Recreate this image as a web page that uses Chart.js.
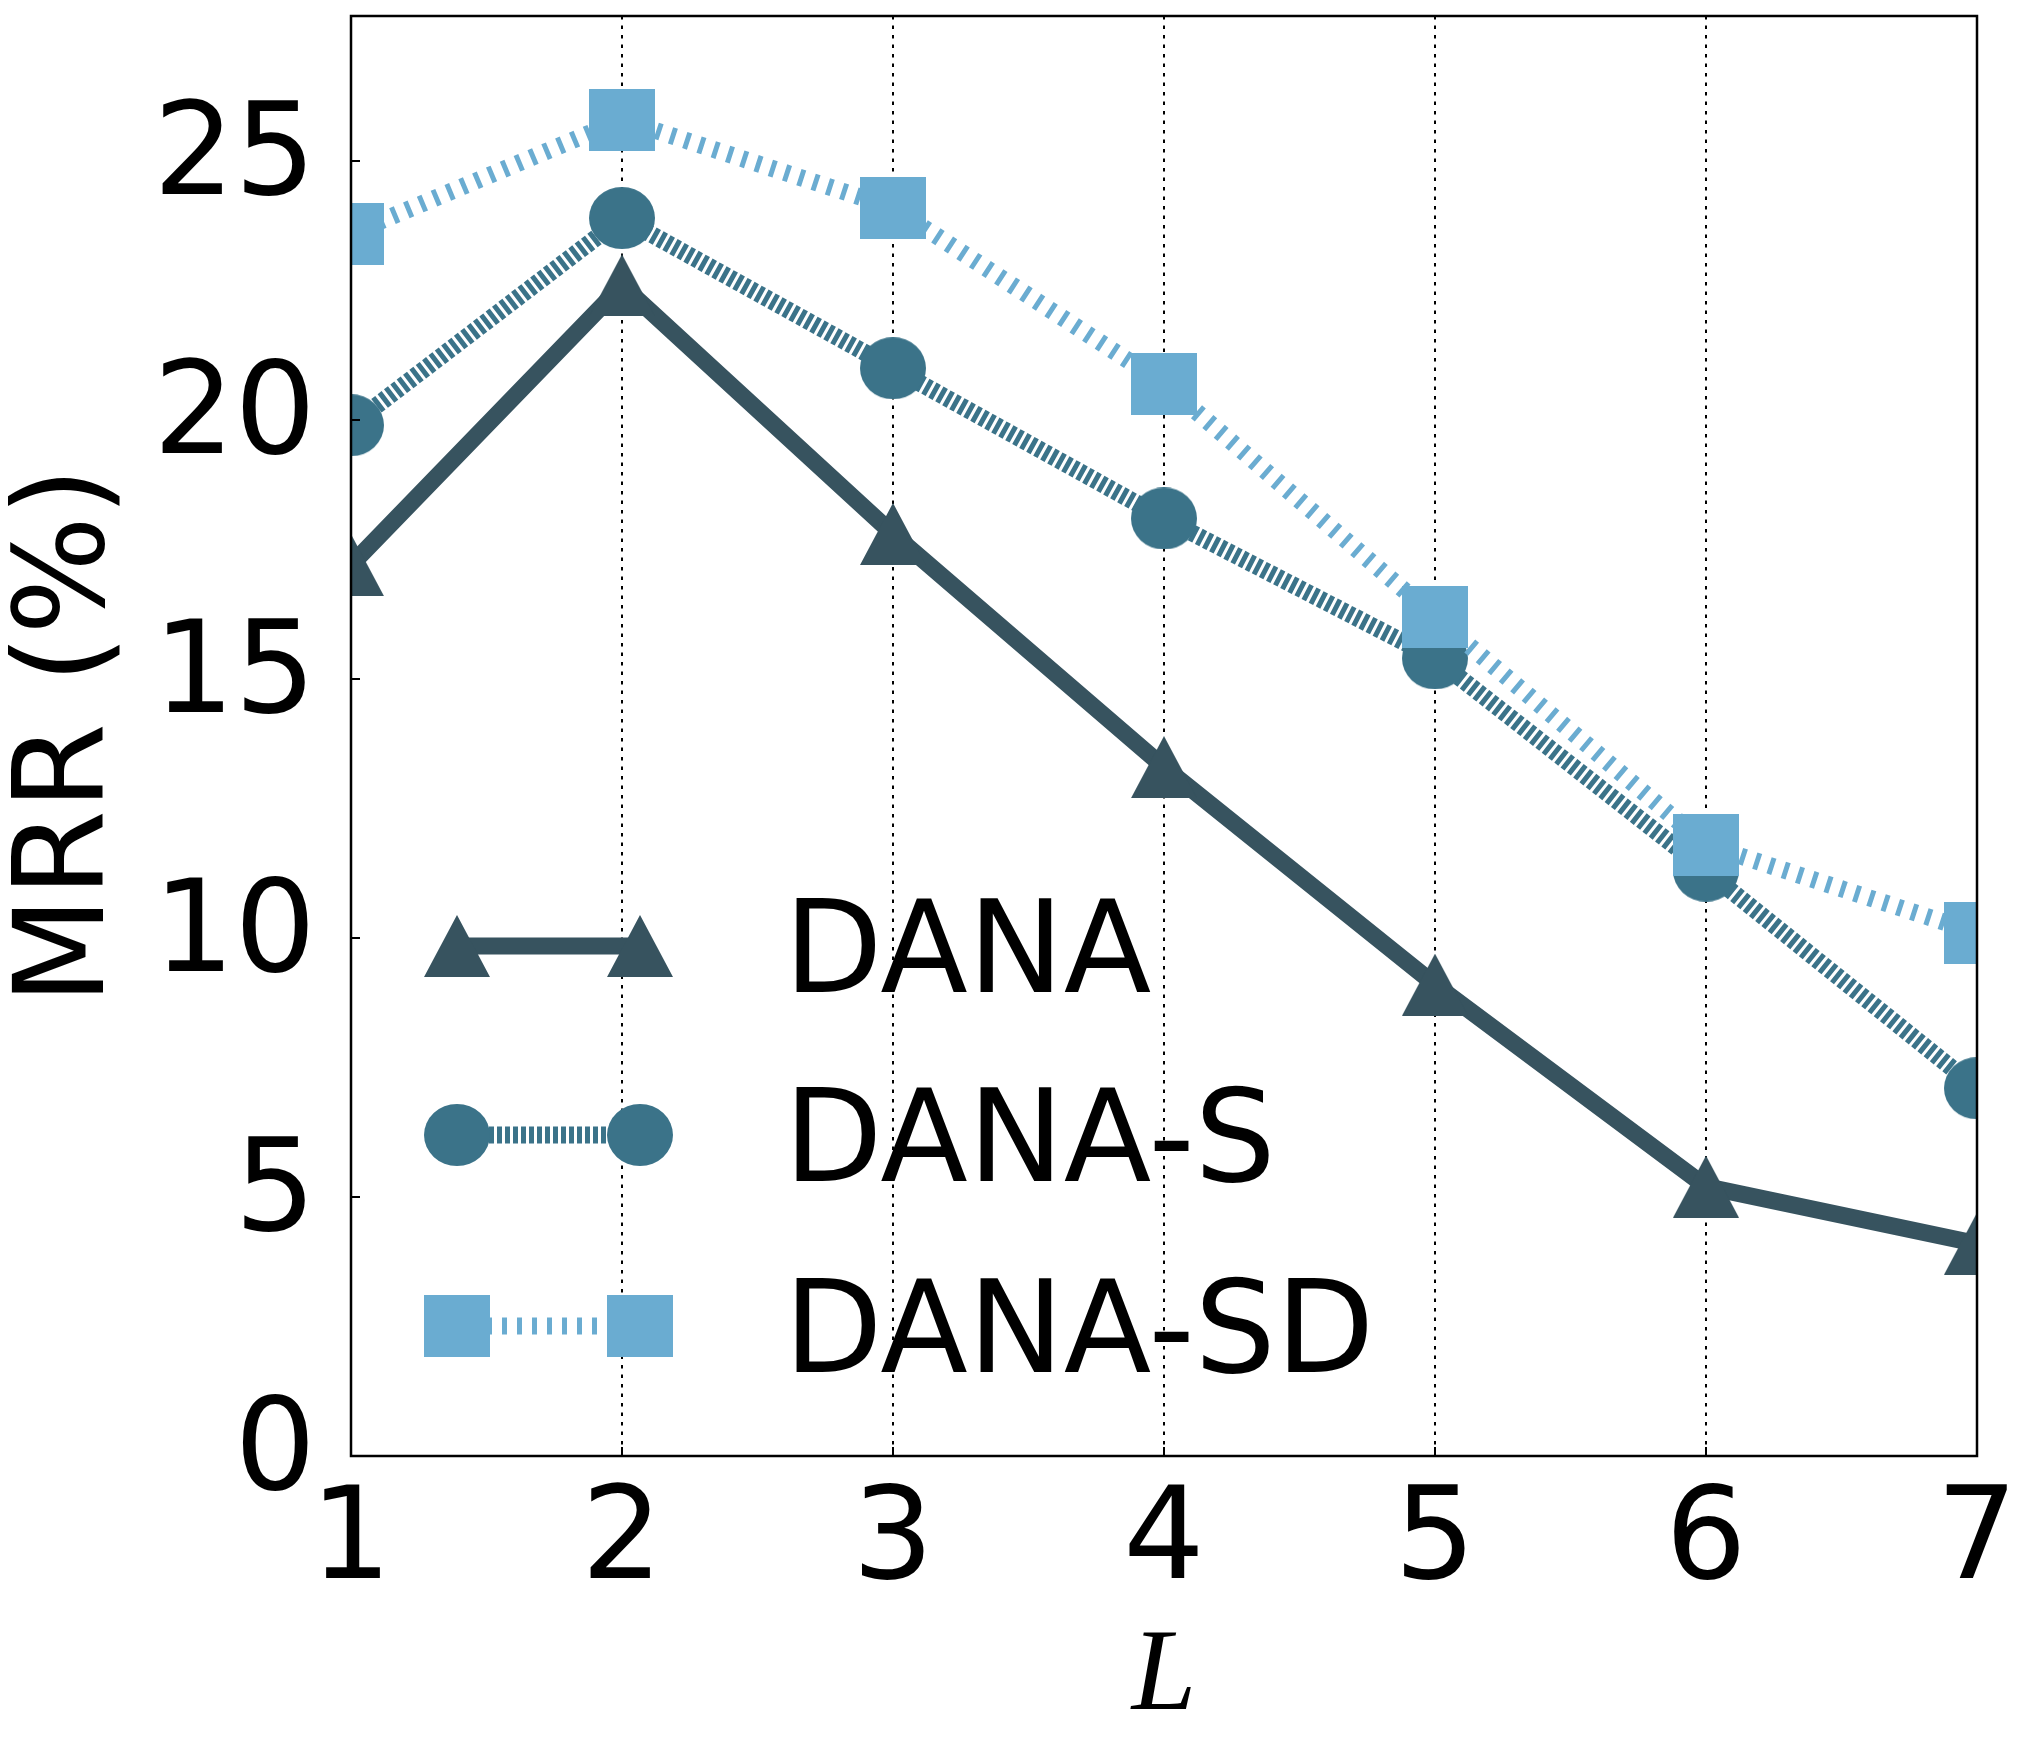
<!DOCTYPE html>
<html>
<head>
<meta charset="utf-8">
<script src="https://cdn.jsdelivr.net/npm/chart.js@4.4.1/dist/chart.umd.min.js"></script>
<style>
  html, body { margin: 0; padding: 0; background: #fff; }
  #wrap { width: 2038px; height: 1762px; }
</style>
</head>
<body>
<div id="wrap"><canvas id="mrrChart" width="2038" height="1762"></canvas></div>
<script>
// values
const lValues = ['1', '2', '3', '4', '5', '6', '7'];
const yTickValues = [0, 5, 10, 15, 20, 25];
const danaValues = [17.2, 22.6, 17.8, 13.3, 9.1, 5.2, 4.1];
const danaSValues = [19.9, 23.9, 21.0, 18.1, 15.4, 11.3, 7.1];
const danaSDValues = [23.6, 25.8, 24.1, 20.7, 16.2, 11.8, 10.1];
const seriesNames = ['DANA', 'DANA-S', 'DANA-SD'];

const colDana = '#37535f';
const colDanaS = '#3b7389';
const colDanaSD = '#6aacd1';

Chart.defaults.font.family = 'DejaVu Sans';
Chart.defaults.color = '#000';

// matplotlib-like markers (bbox centred on the point)
function makeMarker(shape, color) {
    const c = document.createElement('canvas');
    c.width = 66; c.height = 62;
    const g = c.getContext('2d');
    g.fillStyle = color;
    g.beginPath();
    if (shape === 'triangle') {
        g.moveTo(33, 0); g.lineTo(66, 62); g.lineTo(0, 62); g.closePath();
    } else if (shape === 'circle') {
        g.ellipse(33, 31, 33, 31, 0, 0, Math.PI * 2);
    } else {
        g.rect(0, 0, 66, 62);
    }
    g.fill();
    return c;
}

const triMarker = makeMarker('triangle', colDana);
const dotMarker = makeMarker('circle', colDanaS);
const sqMarker = makeMarker('square', colDanaSD);

const lineBase = { pointRadius: 32, tension: 0, clip: 0, borderWidth: 17, borderJoinStyle: 'round' };

const datasets = [
    { ...lineBase, label: seriesNames[0], data: danaValues, borderColor: colDana, backgroundColor: colDana,
      pointStyle: triMarker, borderDash: [], order: 3, borderCapStyle: 'round' },
    { ...lineBase, label: seriesNames[1], data: danaSValues, borderColor: colDanaS, backgroundColor: colDanaS,
      pointStyle: dotMarker, borderDash: [5, 3], order: 2, borderCapStyle: 'butt' },
    { ...lineBase, label: seriesNames[2], data: danaSDValues, borderColor: colDanaSD, backgroundColor: colDanaSD,
      pointStyle: sqMarker, borderDash: [5, 10], order: 1, borderCapStyle: 'butt' }
];

// frame, inward ticks and the legend with a marker at both ends
const frameAndLegend = {
    id: 'frameAndLegend',
    afterDatasetsDraw(chart) {
        const { ctx, chartArea: a, scales } = chart;
        ctx.save();
        ctx.strokeStyle = '#000';
        ctx.lineWidth = 2;
        ctx.setLineDash([]);
        ctx.beginPath();
        yTickValues.forEach(v => {
            const py = scales.y.getPixelForValue(v);
            ctx.moveTo(a.left, py); ctx.lineTo(a.left + 9, py);
        });
        lValues.forEach((l, i) => {
            const px = scales.x.getPixelForValue(i);
            ctx.moveTo(px, a.bottom); ctx.lineTo(px, a.bottom - 9);
        });
        ctx.stroke();
        ctx.lineWidth = 2.5;
        ctx.strokeRect(a.left, a.top, a.right - a.left, a.bottom - a.top);

        // legend rows measured from the bottom of the plot
        const rows = [510, 321, 130];
        const markers = [triMarker, dotMarker, sqMarker];
        const x1 = a.left + 106, x2 = a.left + 289;
        chart.data.datasets.forEach((ds, i) => {
            const ry = a.bottom - rows[i];
            ctx.strokeStyle = ds.borderColor;
            ctx.lineWidth = ds.borderWidth;
            ctx.lineCap = 'butt';
            ctx.setLineDash(ds.borderDash);
            ctx.beginPath();
            ctx.moveTo(x1, ry); ctx.lineTo(x2, ry);
            ctx.stroke();
            ctx.setLineDash([]);
            const m = markers[i];
            ctx.drawImage(m, x1 - m.width / 2, ry - m.height / 2);
            ctx.drawImage(m, x2 - m.width / 2, ry - m.height / 2);
            ctx.fillStyle = '#000';
            ctx.font = '128px "DejaVu Sans"';
            ctx.textBaseline = 'alphabetic';
            ctx.textAlign = 'left';
            ctx.fillText(ds.label, a.left + 433, ry + 46);
        });
        ctx.restore();
    }
};

new Chart(document.getElementById('mrrChart'), {
    type: 'line',
    data: { labels: lValues, datasets: datasets },
    options: {
        responsive: false,
        animation: false,
        devicePixelRatio: 1,
        events: [],
        layout: { autoPadding: false, padding: { top: 16, right: 61, left: 0, bottom: 0 } },
        plugins: { legend: { display: false }, tooltip: { enabled: false } },
        scales: {
            x: {
                type: 'category',
                offset: false,
                grid: { color: '#000', lineWidth: 2, drawTicks: false },
                border: { display: false, dash: [3.5, 6] },
                ticks: { font: { size: 128 }, padding: 12, maxRotation: 0, autoSkip: false },
                title: {
                    display: true, text: 'L',
                    font: { family: 'Liberation Serif', style: 'italic', size: 116, lineHeight: 1.2 },
                    padding: { top: 0, bottom: 14 }
                },
                afterFit: s => { s.height = 306; s.paddingLeft = 0; s.paddingRight = 0; }
            },
            y: {
                min: 0,
                max: 27.8,
                afterBuildTicks: s => { s.ticks = yTickValues.map(v => ({ value: v })); },
                grid: { drawOnChartArea: false, drawTicks: false },
                border: { display: false },
                ticks: { font: { size: 128 }, padding: 35 },
                title: {
                    display: true, text: 'MRR (%)',
                    font: { size: 125, lineHeight: 1.1 },
                    padding: { top: 2, bottom: 0 }
                },
                afterFit: s => { s.width = 351; s.paddingTop = 0; s.paddingBottom = 0; }
            }
        }
    },
    plugins: [frameAndLegend]
});
</script>
</body>
</html>
